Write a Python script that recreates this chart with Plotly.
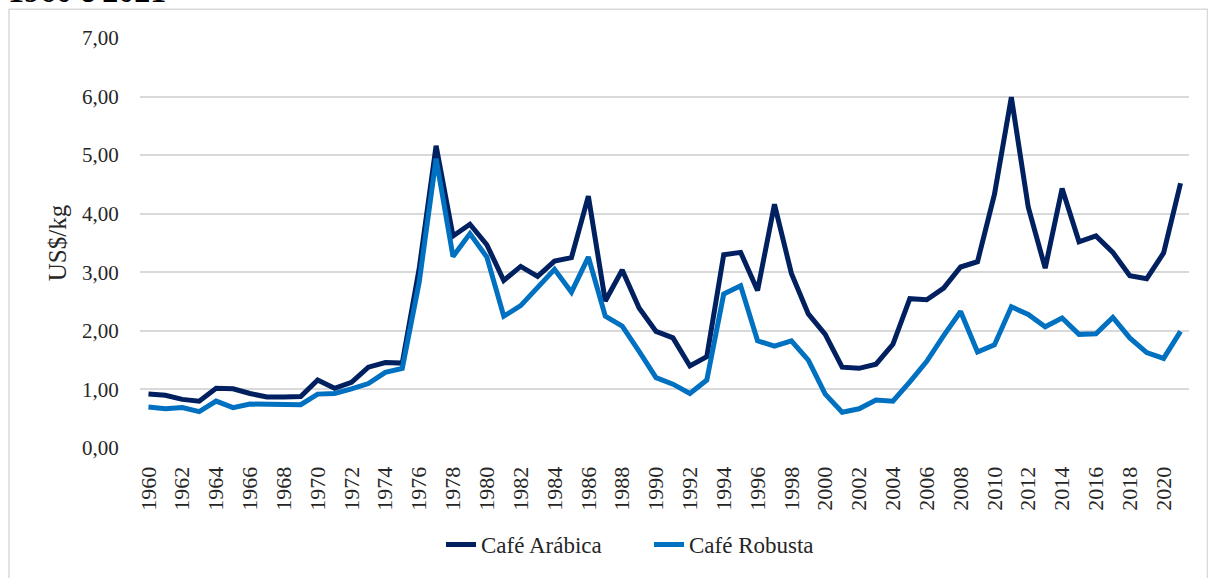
import plotly.graph_objects as go

years = list(range(1960, 2022))

arabica = [0.92, 0.90, 0.83, 0.80, 1.02, 1.01, 0.93, 0.87, 0.87, 0.88,
           1.16, 1.02, 1.12, 1.38, 1.46, 1.45, 3.06, 5.16, 3.62, 3.82,
           3.47, 2.86, 3.10, 2.93, 3.19, 3.25, 4.30, 2.51, 3.04, 2.39,
           1.99, 1.88, 1.40, 1.56, 3.30, 3.34, 2.69, 4.16, 2.98, 2.29,
           1.94, 1.38, 1.36, 1.43, 1.77, 2.55, 2.53, 2.73, 3.09, 3.18,
           4.33, 5.99, 4.11, 3.07, 4.43, 3.52, 3.62, 3.34, 2.94, 2.89,
           3.33, 4.52]

robusta = [0.70, 0.67, 0.69, 0.62, 0.80, 0.69, 0.75, 0.75, 0.75, 0.74,
           0.92, 0.93, 1.01, 1.10, 1.29, 1.36, 2.83, 4.94, 3.27, 3.66,
           3.26, 2.25, 2.43, 2.75, 3.05, 2.66, 3.26, 2.25, 2.08, 1.65,
           1.20, 1.09, 0.93, 1.16, 2.63, 2.77, 1.83, 1.74, 1.83, 1.50,
           0.92, 0.61, 0.67, 0.82, 0.80, 1.13, 1.48, 1.92, 2.33, 1.64,
           1.76, 2.41, 2.28, 2.07, 2.22, 1.94, 1.95, 2.23, 1.88, 1.63,
           1.53, 1.99]

y_ticks = [0, 1, 2, 3, 4, 5, 6, 7]
y_tick_labels = ["0,00", "1,00", "2,00", "3,00", "4,00", "5,00", "6,00", "7,00"]
x_ticks = list(range(1960, 2022, 2))

FONT = "Liberation Serif"
TXT = "#262626"

fig = go.Figure()
fig.add_trace(go.Scatter(x=years, y=arabica, mode="lines", name="Café Arábica",
                         line=dict(color="#002060", width=5)))
fig.add_trace(go.Scatter(x=years, y=robusta, mode="lines", name="Café Robusta",
                         line=dict(color="#0070C0", width=5)))

L, R, T, B = 140, 19, 38, 128
W, H = 1208, 578
pw, ph = W - L - R, H - T - B

fig.update_layout(
    width=W, height=H,
    margin=dict(l=L, r=R, t=T, b=B),
    paper_bgcolor="white", plot_bgcolor="white",
    font=dict(family=FONT, color=TXT, size=22),
    showlegend=True,
    legend=dict(orientation="h", x=(649 - L) / pw, xanchor="center", y=-(547 - 450) / ph,
                yanchor="middle", font=dict(family=FONT, size=23, color=TXT),
                entrywidth=163, entrywidthmode="pixels"),
    xaxis=dict(range=[1959.5, 2021.5], tickmode="array", tickvals=x_ticks,
               ticktext=[str(v) for v in x_ticks], tickangle=-90,
               showgrid=False, zeroline=False, showline=False,
               ticks="outside", ticklen=9, tickcolor="rgba(0,0,0,0)",
               tickfont=dict(family=FONT, size=22, color=TXT)),
    yaxis=dict(range=[0, 7], tickmode="array", tickvals=y_ticks,
               ticktext=y_tick_labels, showgrid=True, gridcolor="#D9D9D9",
               gridwidth=1.5, zeroline=False, showline=False,
               ticks="outside", ticklen=16, tickcolor="rgba(0,0,0,0)",
               tickfont=dict(family=FONT, size=21, color=TXT),
               title=dict(text="US$/kg", standoff=8,
                          font=dict(family=FONT, size=25, color=TXT))),
)

# outer chart border (decoration)
fig.add_shape(type="rect", xref="paper", yref="paper",
              x0=(9 - L) / pw, x1=(1207.5 - L) / pw,
              y0=(T + ph - 600) / ph, y1=(T + ph - 9) / ph,
              line=dict(color="#D9D9D9", width=1.5), fillcolor="rgba(0,0,0,0)",
              layer="below")

# clipped title line above the chart (as in the reference)
fig.add_annotation(text="<b>1960 e 2021</b>", xref="paper", yref="paper",
                   x=(6 - L) / pw, y=(T + ph - 11) / ph, xanchor="left", yanchor="bottom",
                   showarrow=False, font=dict(family=FONT, size=32, color="black"))

fig.write_html("out.html", config={"displayModeBar": False},
               post_script="document.body.style.margin='0';document.body.style.overflow='hidden';")
